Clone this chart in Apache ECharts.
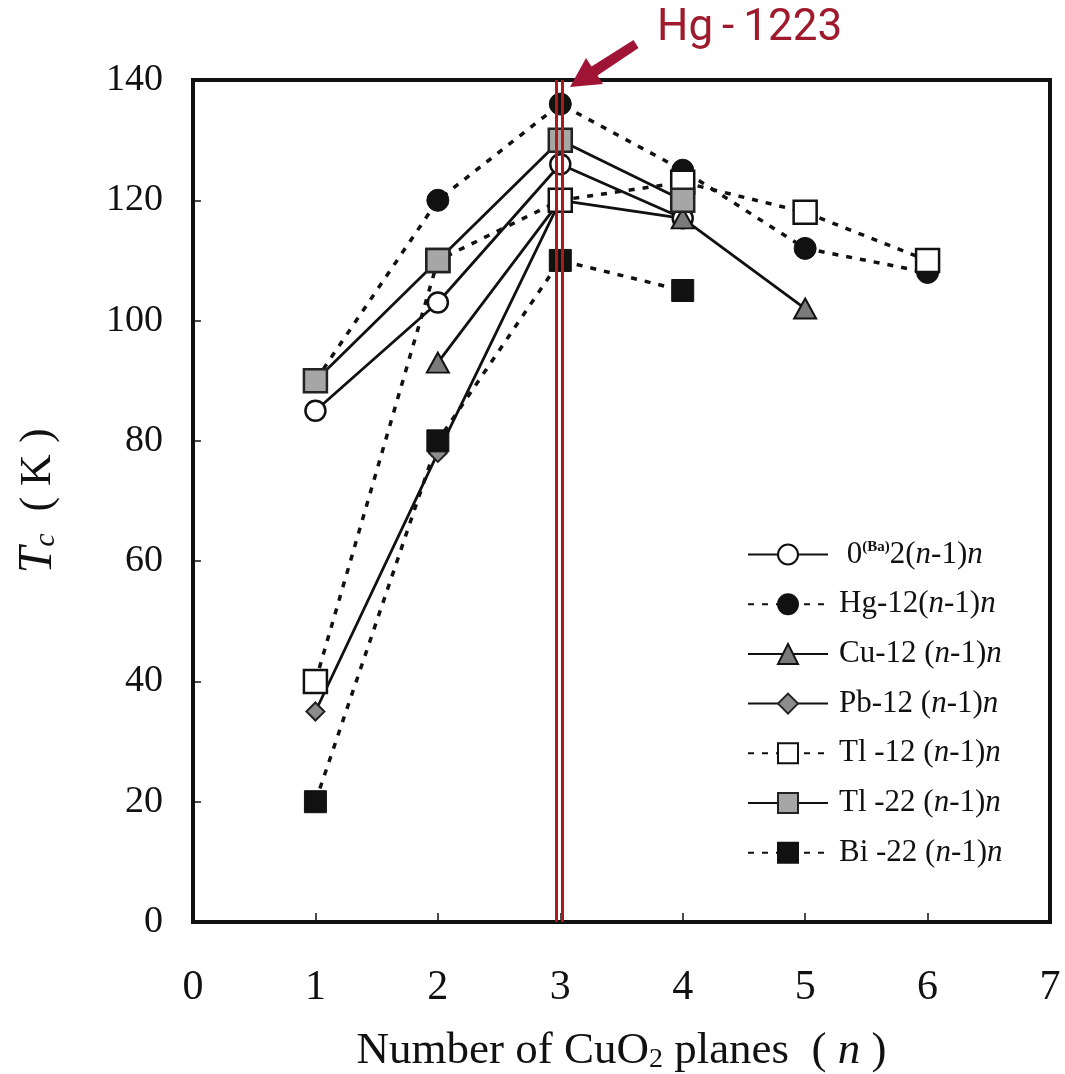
<!DOCTYPE html>
<html><head><meta charset="utf-8">
<script src="https://cdn.jsdelivr.net/npm/echarts@6/dist/echarts.min.js"></script>
<style>html,body{margin:0;padding:0;background:#fff}#c{width:1065px;height:1074px}</style>
</head><body><div id="c"></div>
<script>
// ---- data ----
const nPlanes = [1, 2, 3, 4, 5, 6];
const ba0  = [85, 103, 126, 117, null, null];
const hg12 = [90, 120, 136, 125, 112, 108];
const cu12 = [null, 93, 120, 117, 102, null];
const pb12 = [35, 78, 120, null, null, null];
const tl12 = [40, 110, 120, 123, 118, 110];
const tl22 = [90, 110, 130, 120, null, null];
const bi22 = [20, 80, 110, 105, null, null];
const xTicks = [0, 1, 2, 3, 4, 5, 6, 7];
const yTicks = [0, 20, 40, 60, 80, 100, 120, 140];
const seriesNames = ['0(Ba)2(n-1)n', 'Hg-12(n-1)n', 'Cu-12(n-1)n', 'Pb-12(n-1)n', 'Tl-12(n-1)n', 'Tl-22(n-1)n', 'Bi-22(n-1)n'];
const legendLabels = {
  '0(Ba)2(n-1)n': ' 0{sup|(Ba)}2({i|n}-1){i|n}',
  'Hg-12(n-1)n': 'Hg-12({i|n}-1){i|n}',
  'Cu-12(n-1)n': 'Cu-12 ({i|n}-1){i|n}',
  'Pb-12(n-1)n': 'Pb-12 ({i|n}-1){i|n}',
  'Tl-12(n-1)n': 'Tl -12 ({i|n}-1){i|n}',
  'Tl-22(n-1)n': 'Tl -22 ({i|n}-1){i|n}',
  'Bi-22(n-1)n': 'Bi -22 ({i|n}-1){i|n}'
};
const highlightLines = [2.97, 3.016];   // double red line around n = 3
const annotationText = 'Hg\u2009-\u20091223';

const serif = 'Liberation Serif';
const toPairs = vals => nPlanes.map((n, i) => [n, vals[i]]).filter(d => d[1] != null);
const dotted = [6, 8];

function mk(name, vals, dashed, symbol, size, fill, border, bw) {
  return {
    name, type: 'line', data: toPairs(vals),
    symbol, symbolSize: size, showSymbol: true,
    lineStyle: { color: '#111', width: dashed ? 3.5 : 2.8, type: dashed ? dotted : 'solid' },
    itemStyle: { color: fill, borderColor: border, borderWidth: bw, opacity: 1 },
    emphasis: { disabled: true }, animation: false, z: 2
  };
}

const chart = echarts.init(document.getElementById('c'), null, { renderer: 'canvas' });
chart.setOption({
  backgroundColor: '#fff',
  animation: false,
  grid: { left: 193, right: 15, top: 80, bottom: 152, show: true, borderColor: '#111', borderWidth: 4,
          backgroundColor: '#fff', containLabel: false, outerBoundsMode: 'none' },
  xAxis: {
    type: 'value', min: xTicks[0], max: xTicks[xTicks.length - 1], interval: xTicks[1] - xTicks[0],
    axisLine: { show: false }, splitLine: { show: false },
    axisTick: { show: true, inside: true, length: 9, lineStyle: { color: '#111', width: 1.5 } },
    axisLabel: { fontFamily: serif, fontSize: 42, color: '#111', margin: 45 },
    name: 'Number of CuO{s|2} planes  ( {i|n} )', nameLocation: 'middle', nameGap: 106,
    nameTextStyle: { fontFamily: serif, fontSize: 45, color: '#111', lineHeight: 46,
      rich: { s: { fontFamily: serif, fontSize: 28, lineHeight: 28, verticalAlign: 'bottom', color: '#111' },
              i: { fontFamily: serif, fontSize: 45, fontStyle: 'italic', color: '#111', lineHeight: 46 } } }
  },
  yAxis: {
    type: 'value', min: yTicks[0], max: yTicks[yTicks.length - 1], interval: yTicks[1] - yTicks[0],
    axisLine: { show: false }, splitLine: { show: false },
    axisTick: { show: true, inside: true, length: 8, lineStyle: { color: '#111', width: 1.5 } },
    axisLabel: { fontFamily: serif, fontSize: 38, color: '#111', margin: 30 },
    name: '{t|T}{s|c}  ( K )', nameLocation: 'middle', nameGap: 132, nameRotate: 90,
    nameTextStyle: { fontFamily: serif, fontSize: 44, color: '#111', lineHeight: 46,
      rich: { t: { fontFamily: serif, fontSize: 48, fontStyle: 'italic', color: '#111', lineHeight: 46 },
              s: { fontFamily: serif, fontSize: 30, fontStyle: 'italic', color: '#111', lineHeight: 30, verticalAlign: 'bottom' } } }
  },
  legend: {
    orient: 'vertical', left: 742, top: 534, itemWidth: 80, itemHeight: 25, itemGap: 18.7,
    data: seriesNames, selectedMode: false,
    formatter: name => legendLabels[name],
    textStyle: { fontFamily: serif, fontSize: 31, color: '#111', lineHeight: 30, padding: [0, 0, 0, 6],
      rich: { i: { fontFamily: serif, fontSize: 31, fontStyle: 'italic', color: '#111', lineHeight: 30 },
              sup: { fontFamily: serif, fontSize: 15, fontWeight: 'bold', color: '#111', lineHeight: 14, verticalAlign: 'top' } } }
  },
  series: [
    mk(seriesNames[0], ba0, false, 'circle', 20, '#fff', '#111', 2.5),
    mk(seriesNames[1], hg12, true, 'circle', 22, '#111', '#111', 1),
    mk(seriesNames[2], cu12, false, 'triangle', [22, 20], '#7a7a7a', '#111', 2),
    mk(seriesNames[3], pb12, false, 'diamond', 18, '#8c8c8c', '#222', 2),
    mk(seriesNames[4], tl12, true, 'rect', 23, '#fff', '#111', 2.5),
    mk(seriesNames[5], tl22, false, 'rect', 23, '#a6a6a6', '#222', 2.5),
    mk(seriesNames[6], bi22, true, 'rect', 22, '#111', '#111', 1),
    {
      name: 'highlight', type: 'line', data: [], z: 5, silent: true, animation: false,
      markLine: {
        silent: true, symbol: ['none', 'none'], animation: false,
        label: { show: false },
        lineStyle: { color: '#a81c1c', width: 3, type: 'solid' },
        emphasis: { disabled: true },
        data: highlightLines.map(v => ({ xAxis: v }))
      }
    }
  ],
  graphic: [
    { type: 'polygon', z: 100, shape: { points: [[570, 87], [603, 84], [597.5, 75.5], [638.5, 48], [633.5, 40], [591.5, 66.5], [586, 58]] },
      style: { fill: '#a01535' } },
    { type: 'text', z: 100, x: 657, y: 29,
      style: { text: annotationText, fontFamily: 'Roboto', fontSize: 44, fill: '#9e1a2c', verticalAlign: 'middle', align: 'left' } }
  ]
});
</script>
</body></html>
